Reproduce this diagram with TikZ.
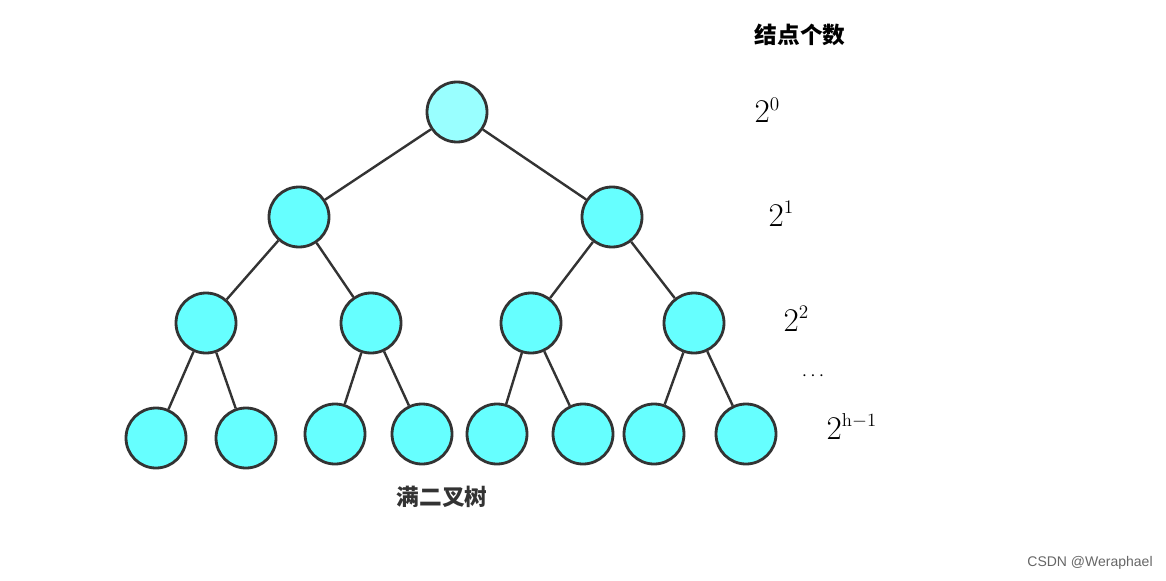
\documentclass[tikz,border=0pt]{standalone}
\usepackage{fontspec}
\newfontfamily\cjk{Noto Sans CJK SC}
\newfontfamily\lsans{Liberation Sans}
\definecolor{nodefill}{HTML}{66FFFF}
\definecolor{rootfill}{HTML}{99FFFF}
\definecolor{ink}{HTML}{333333}
\begin{document}
\begin{tikzpicture}[x=0.75pt,y=-0.75pt,
  tnode/.style={circle,draw=ink,line width=2.1pt,fill=nodefill,minimum size=45pt,inner sep=0pt},
  troot/.style={tnode,fill=rootfill},
  edge/.style={draw=ink,line width=1.8pt},
  lab/.style={font=\fontsize{28}{30}\selectfont,anchor=base west}]
\useasboundingbox (0,0) rectangle (1166,581);
\node[troot] (r) at (457,112) {};
\node[tnode] (a) at (299,217) {};
\node[tnode] (b) at (612,217) {};
\node[tnode] (aa) at (206,323) {};
\node[tnode] (ab) at (371,323) {};
\node[tnode] (ba) at (531,323) {};
\node[tnode] (bb) at (694,323) {};
\node[tnode] (l1) at (156,438) {};
\node[tnode] (l2) at (246,438) {};
\node[tnode] (l3) at (335,434) {};
\node[tnode] (l4) at (422,434) {};
\node[tnode] (l5) at (497,434) {};
\node[tnode] (l6) at (583,434) {};
\node[tnode] (l7) at (654,434) {};
\node[tnode] (l8) at (746,434) {};
\foreach \p/\c in {r/a,r/b,a/aa,a/ab,b/ba,b/bb,aa/l1,aa/l2,ab/l3,ab/l4,ba/l5,ba/l6,bb/l7,bb/l8}
  \draw[edge] (\p) -- (\c);
\node[font=\cjk\bfseries\fontsize{17}{20}\selectfont] (title) at (800,35) {结点个数};
\node[lab] (e0) at (750,123) {$2^{\scriptscriptstyle 0}$};
\node[lab] (e1) at (764,226) {$2^{\scriptscriptstyle 1}$};
\node[lab] (e2) at (779,331) {$2^{\scriptscriptstyle 2}$};
\node[font=\fontsize{14}{16}\selectfont] (dots) at (813,376) {$\cdots$};
\node[lab] (eh) at (822,439) {$2^{\mathrm{\scriptscriptstyle h-1}}$};
\node[font=\cjk\bfseries\fontsize{17}{20}\selectfont,text=ink] (cap) at (442,497) {满二叉树};
\node[font=\lsans\fontsize{10.5}{12}\selectfont,text=black!60] (wm) at (1090,563) {CSDN @Weraphael};
\end{tikzpicture}
\end{document}
